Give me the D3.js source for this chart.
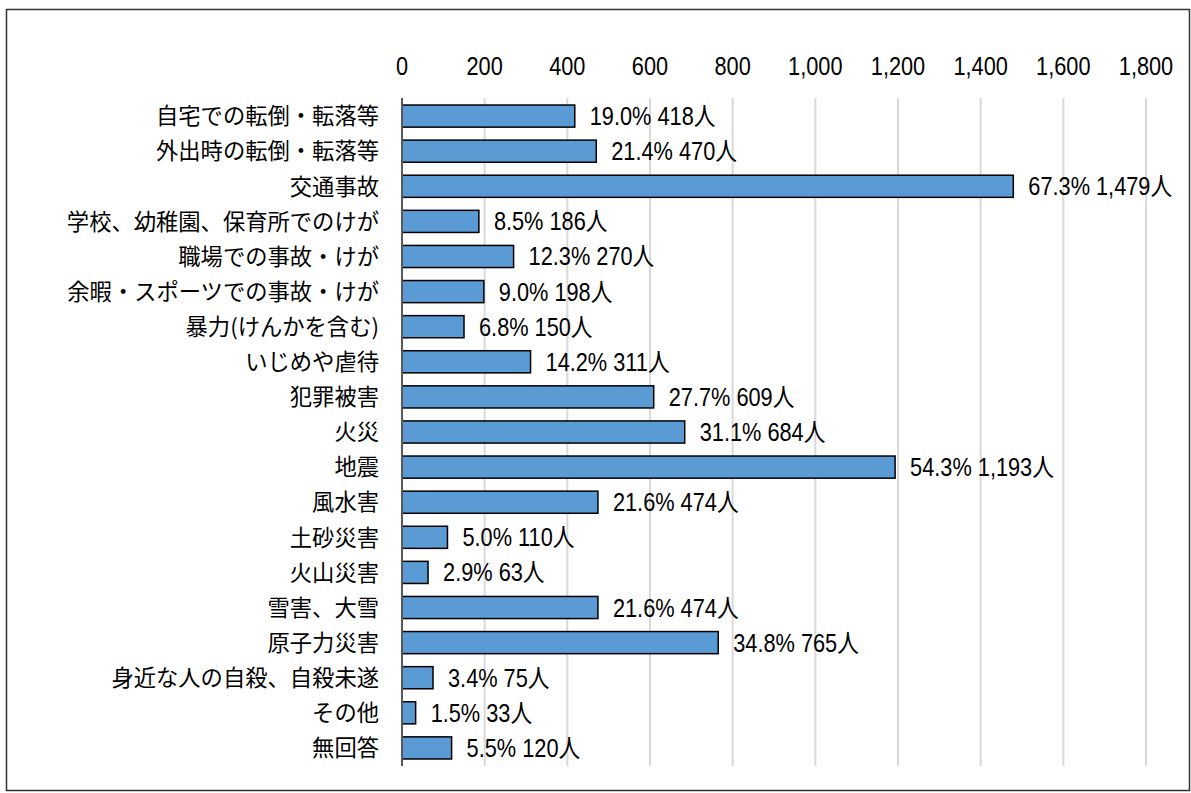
<!DOCTYPE html>
<html>
<head>
<meta charset="utf-8">
<script src="https://cdn.jsdelivr.net/npm/d3@7"></script>
<style>
  body { margin: 0; background: #fff; }
  text { fill: #000; }
  .cat { font-family: "Noto Sans CJK JP", sans-serif; font-size: 22.3px; }
  .num { font-family: "Liberation Sans", Arial, "Noto Sans CJK JP", sans-serif; font-size: 25px; }
</style>
</head>
<body>
<svg id="svgcanvas" width="1191" height="793"></svg>
<script>
// categories, top to bottom
var categories = ["自宅での転倒・転落等", "外出時の転倒・転落等", "交通事故", "学校、幼稚園、保育所でのけが",
  "職場での事故・けが", "余暇・スポーツでの事故・けが", "暴力(けんかを含む)", "いじめや虐待", "犯罪被害",
  "火災", "地震", "風水害", "土砂災害", "火山災害", "雪害、大雪", "原子力災害", "身近な人の自殺、自殺未遂",
  "その他", "無回答"];
var counts = [418, 470, 1479, 186, 270, 198, 150, 311, 609, 684, 1193, 474, 110, 63, 474, 765, 75, 33, 120];
var percents = [19.0, 21.4, 67.3, 8.5, 12.3, 9.0, 6.8, 14.2, 27.7, 31.1, 54.3, 21.6, 5.0, 2.9, 21.6, 34.8, 3.4, 1.5, 5.5];
var tickValues = [0, 200, 400, 600, 800, 1000, 1200, 1400, 1600, 1800];

var svg = d3.select("#svgcanvas");
var narrow = 0.87; // squeeze the numbers horizontally, like a narrow face

// outer frame
svg.append("rect")
  .attr("x", 6.5).attr("y", 9.5)
  .attr("width", 1183).attr("height", 781)
  .attr("fill", "none").attr("stroke", "#333").attr("stroke-width", 1.5);

var x = d3.scaleLinear().domain([0, 1800]).range([402, 1146]);
var y = d3.scaleBand().domain(categories).range([98, 766]).paddingInner(0.37).paddingOuter(0.2);

// gridlines
svg.selectAll("line.grid")
  .data(tickValues.slice(1))
  .enter().append("line")
  .classed("grid", true)
  .attr("x1", d => x(d)).attr("x2", d => x(d))
  .attr("y1", 98).attr("y2", 766)
  .attr("stroke", "#d9d9d9").attr("stroke-width", 2);

// tick labels on top
var fmt = d3.format(",");
svg.selectAll("text.tick")
  .data(tickValues)
  .enter().append("text")
  .classed("num", true)
  .attr("transform", d => "translate(" + x(d) + ",75) scale(" + narrow + ",1)")
  .attr("text-anchor", "middle")
  .text(d => fmt(d));

// bars
svg.selectAll("rect.bar")
  .data(categories)
  .enter().append("rect")
  .classed("bar", true)
  .attr("x", x(0))
  .attr("y", d => y(d))
  .attr("width", (d, i) => x(counts[i]) - x(0))
  .attr("height", y.bandwidth())
  .attr("fill", "#5b9bd5").attr("stroke", "#000").attr("stroke-width", 1.5);

// vertical axis line
svg.append("line")
  .attr("x1", x(0)).attr("x2", x(0))
  .attr("y1", 98).attr("y2", 766)
  .attr("stroke", "#595959").attr("stroke-width", 2);

// category labels
svg.selectAll("text.cat")
  .data(categories)
  .enter().append("text")
  .classed("cat", true)
  .attr("x", 379)
  .attr("y", d => y(d) + y.bandwidth() / 2)
  .attr("dy", "0.37em")
  .attr("text-anchor", "end")
  .text(d => d);

// value labels
svg.selectAll("text.lbl")
  .data(categories)
  .enter().append("text")
  .classed("num", true)
  .attr("transform", (d, i) => "translate(" + (x(counts[i]) + 15) + "," + (y(d) + y.bandwidth() / 2 + 9) + ") scale(" + narrow + ",1)")
  .text((d, i) => percents[i].toFixed(1) + "% " + fmt(counts[i]) + "人");
</script>
</body>
</html>
